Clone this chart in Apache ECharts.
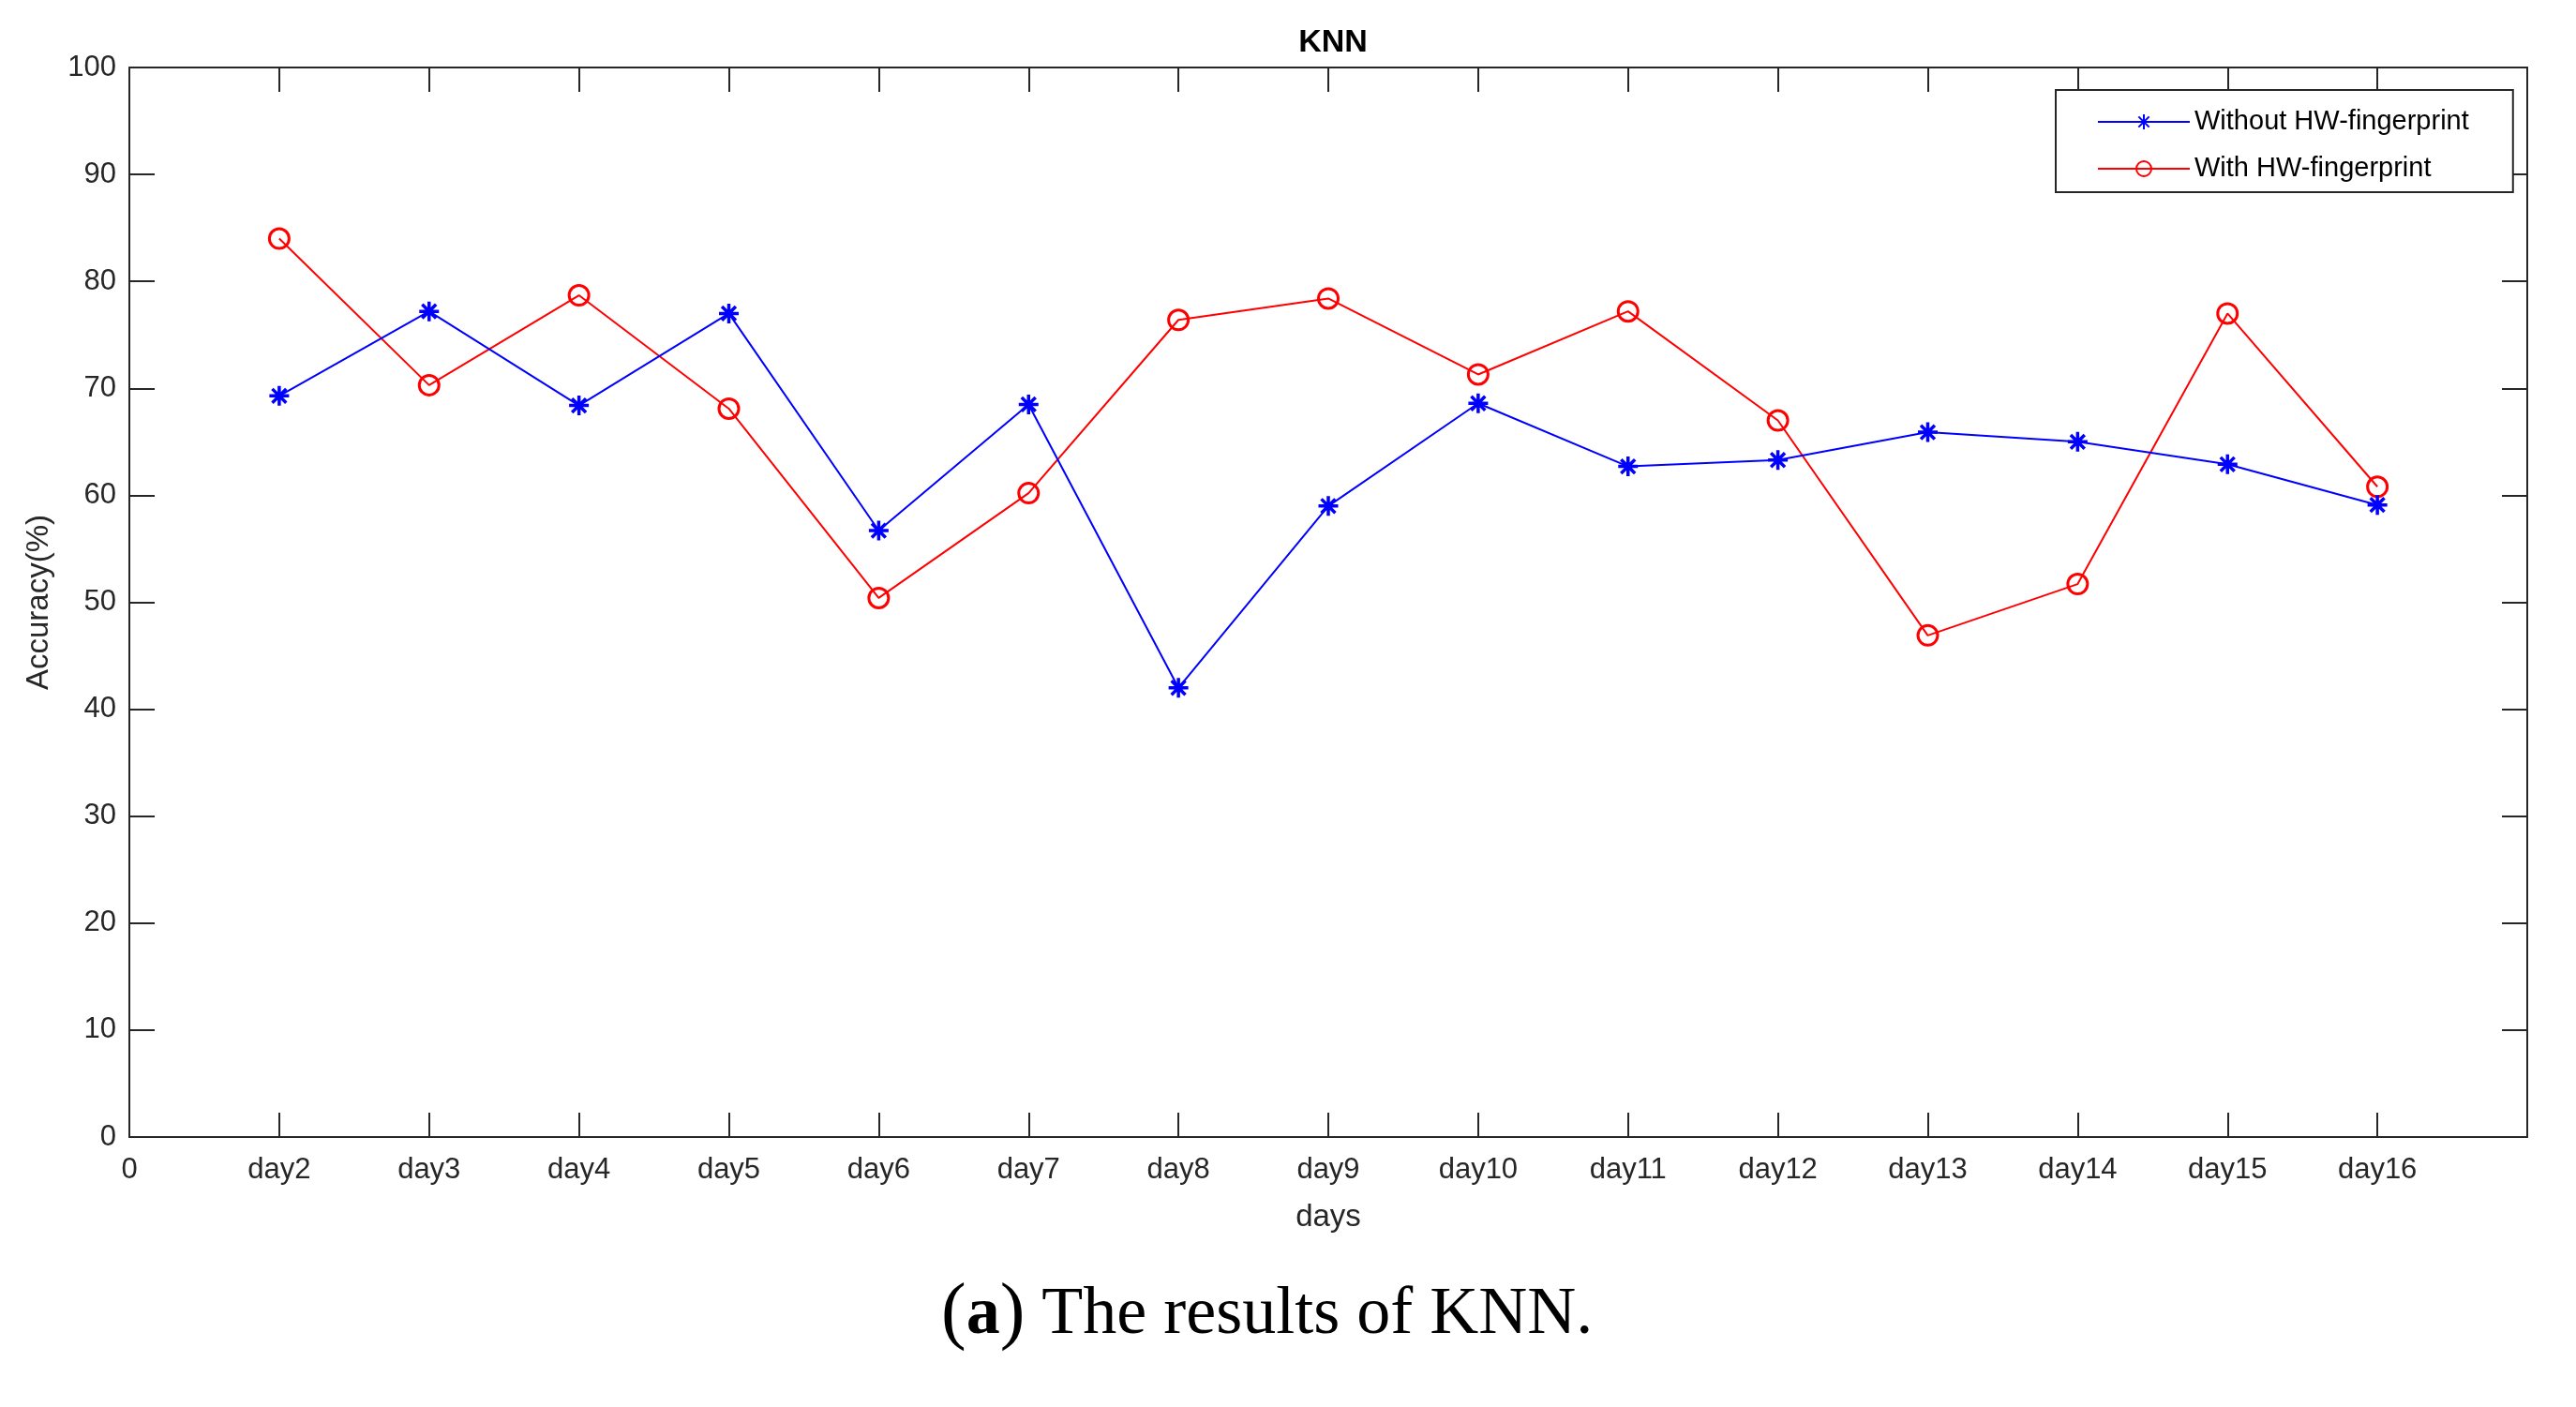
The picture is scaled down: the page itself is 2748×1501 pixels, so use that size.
<!DOCTYPE html>
<html>
<head>
<meta charset="utf-8">
<script src="https://cdn.jsdelivr.net/npm/echarts@6/dist/echarts.min.js"></script>
<style>
html,body{margin:0;padding:0;background:#fff;}
#chart{width:2748px;height:1501px;}
</style>
</head>
<body>
<div id="chart"></div>
<script>
// ---- data ----
var days = ['day2','day3','day4','day5','day6','day7','day8','day9','day10','day11','day12','day13','day14','day15','day16'];
var xTickLabels = ['0','day2','day3','day4','day5','day6','day7','day8','day9','day10','day11','day12','day13','day14','day15','day16',''];
var withoutHW = [69.3, 77.2, 68.4, 77.0, 56.7, 68.5, 42.0, 59.0, 68.6, 62.7, 63.3, 65.9, 65.0, 62.9, 59.1];
var withHW    = [84.0, 70.3, 78.7, 68.1, 50.4, 60.2, 76.4, 78.4, 71.3, 77.2, 67.0, 46.9, 51.7, 77.0, 60.8];
var yTicks = [0,10,20,30,40,50,60,70,80,90,100];

var AX = '#262626';
var FONT = 'Liberation Sans, Arial, Helvetica, sans-serif';
var SERIF = 'Liberation Serif, Times New Roman, serif';
function pairs(arr){ return arr.map(function(v,i){ return [i+1, v]; }); }
var asterisk = 'path://M0,-10L0,10M-7.07,-7.07L7.07,7.07M-7.07,7.07L7.07,-7.07M-10,0L10,0';

var chart = echarts.init(document.getElementById('chart'));
var xBase = {
  type:'value', min:0, max:xTickLabels.length-1, interval:1,
  splitLine:{show:false},
  axisLine:{show:true, onZero:false, lineStyle:{color:AX, width:2}},
  axisTick:{show:true, inside:true, length:26, lineStyle:{color:AX, width:2}}
};
var yBase = {
  type:'value', min:yTicks[0], max:yTicks[yTicks.length-1], interval:10,
  splitLine:{show:false},
  axisLine:{show:true, onZero:false, lineStyle:{color:AX, width:2}},
  axisTick:{show:true, inside:true, length:27, lineStyle:{color:AX, width:2}}
};
var option = {
  backgroundColor:'#fff',
  animation:false,
  title:{
    text:'KNN', left:1417, textAlign:'center', top:24,
    textStyle:{fontFamily:FONT, fontSize:34, fontWeight:'bold', color:'#000'}
  },
  grid:{left:138, right:52, top:72, bottom:288},
  legend:{
    orient:'vertical', left:2193, top:96,
    padding:[19, 47, 10, 44],
    itemWidth:98, itemHeight:20, itemGap:20,
    backgroundColor:'#fff', borderColor:AX, borderWidth:2, borderRadius:0,
    textStyle:{fontFamily:FONT, fontSize:29, color:'#000', lineHeight:30},
    data:['Without HW-fingerprint','With HW-fingerprint']
  },
  xAxis:[
    Object.assign({}, xBase, {
      position:'bottom',
      name:'days', nameLocation:'middle', nameGap:69,
      nameTextStyle:{fontFamily:FONT, fontSize:33, color:AX},
      axisLabel:{fontFamily:FONT, fontSize:31, color:AX, margin:20,
        formatter:function(v){ return xTickLabels[Math.round(v)]; }}
    }),
    Object.assign({}, xBase, {position:'top', axisLabel:{show:false}})
  ],
  yAxis:[
    Object.assign({}, yBase, {
      position:'left',
      name:'Accuracy(%)', nameLocation:'middle', nameGap:80,
      nameTextStyle:{fontFamily:FONT, fontSize:33, color:AX},
      axisLabel:{fontFamily:FONT, fontSize:31, color:AX, margin:14}
    }),
    Object.assign({}, yBase, {position:'right', axisLabel:{show:false}})
  ],
  series:[
    {
      name:'Without HW-fingerprint', type:'line', xAxisIndex:0, yAxisIndex:0,
      data:pairs(withoutHW),
      symbol:asterisk, symbolSize:21, showAllSymbol:true,
      lineStyle:{color:'#0000ff', width:2},
      itemStyle:{color:'#0000ff', borderColor:'#0000ff', borderWidth:3.5},
      z:3
    },
    {
      name:'With HW-fingerprint', type:'line', xAxisIndex:0, yAxisIndex:0,
      data:pairs(withHW),
      symbol:'circle', symbolSize:21, showAllSymbol:true,
      lineStyle:{color:'#ff0000', width:2},
      itemStyle:{color:'rgba(255,255,255,0)', borderColor:'#ff0000', borderWidth:3},
      z:2
    }
  ],
  graphic:[{
    type:'text', left:1004, top:1363,
    style:{
      text:'{p|(}{b|a}{p|)}{t| The results of KNN.}',
      rich:{
        p:{fontFamily:SERIF, fontSize:80, fill:'#000'},
        b:{fontFamily:SERIF, fontSize:72, fontWeight:'bold', fill:'#000'},
        t:{fontFamily:SERIF, fontSize:72, fill:'#000'}
      }
    }
  }]
};
chart.setOption(option);
</script>
</body>
</html>
